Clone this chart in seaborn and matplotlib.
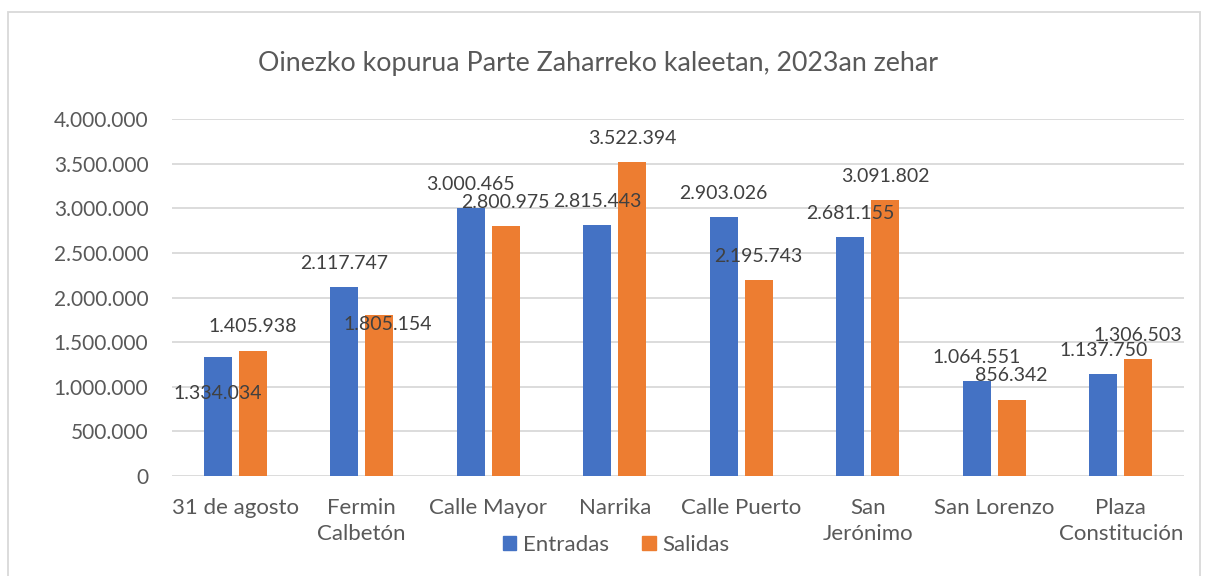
import matplotlib
matplotlib.use("Agg")
import matplotlib.pyplot as plt
from matplotlib.patches import Rectangle
from matplotlib.ticker import FuncFormatter
import pandas as pd
import seaborn as sns

# data
calles = ["31 de agosto", "Fermin\nCalbetón", "Calle Mayor", "Narrika", "Calle Puerto",
          "San\nJerónimo", "San Lorenzo", "Plaza\nConstitución"]
entradas = [1334034, 2117747, 3000465, 2815443, 2903026, 2681155, 1064551, 1137750]
salidas = [1405938, 1805154, 2800975, 3522394, 2195743, 3091802, 856342, 1306503]
series = ["Entradas", "Salidas"]
titulo = "Oinezko kopurua Parte Zaharreko kaleetan, 2023an zehar"
y_ticks = [0, 500000, 1000000, 1500000, 2000000, 2500000, 3000000, 3500000, 4000000]

df = pd.DataFrame({
    "calle": calles * 2,
    "serie": [series[0]] * len(calles) + [series[1]] * len(calles),
    "valor": entradas + salidas,
})


def miles(v, pos=None):
    return f"{int(round(v)):,}".replace(",", ".")


sns.set_theme(style="white")
plt.rcParams["font.family"] = ["Lato", "DejaVu Sans"]

fig = plt.figure(figsize=(12.08, 5.76), dpi=100)
ax = fig.add_axes([172 / 1208, 1 - 476 / 576, (1184 - 172) / 1208, (476 - 119) / 576])

sns.barplot(data=df, x="calle", y="valor", hue="serie", palette=["#4472C4", "#ED7D31"],
            width=0.553, gap=0.2, order=calles, hue_order=series, ax=ax,
            legend=False, saturation=1, edgecolor="none")

ax.set_ylim(0, 4000000)
ax.set_xlim(-0.5, len(calles) - 0.5)
ax.set_yticks(y_ticks)
ax.yaxis.set_major_formatter(FuncFormatter(miles))
ax.yaxis.grid(True, color="#D9D9D9", linewidth=1.3)
ax.set_axisbelow(True)
for s in ax.spines.values():
    s.set_visible(False)
ax.set_xlabel("")
ax.set_ylabel("")
ax.tick_params(axis="y", length=0, pad=17, labelsize=15, labelcolor="#595959")
ax.tick_params(axis="x", length=0, pad=16, labelsize=16, labelcolor="#595959")
for lbl in ax.get_xticklabels():
    lbl.set_linespacing(1.35)

# value labels, a couple sit off the default spot like in the original
shifts = {(0, 0): (0, -43), (1, 1): (6, -24)}
for j, cont in enumerate(ax.containers):
    vals = entradas if j == 0 else salidas
    for i, bar in enumerate(cont):
        dx, dy = shifts.get((i, j), (0, 0))
        ax.annotate(miles(vals[i]), (bar.get_x() + bar.get_width() / 2, bar.get_height()),
                    xytext=(dx, 17 + dy), textcoords="offset points",
                    ha="center", va="center", fontsize=14, color="#404040")

fig.text(0.495, 1 - 63 / 576, titulo, ha="center", va="center", fontsize=19.3, color="#595959")

handles = [Rectangle((0, 0), 1, 1, color=c) for c in ["#4472C4", "#ED7D31"]]
leg = fig.legend(handles, series, loc="center", bbox_to_anchor=(0.51, 1 - 545 / 576), ncol=2,
                 frameon=False, fontsize=16, handlelength=0.6, handleheight=0.6,
                 handletextpad=0.3, columnspacing=1.5)
for t in leg.get_texts():
    t.set_color("#595959")

fig.patches.append(Rectangle((8 / 1208, -0.1), 1192 / 1208, 1.1 - 12 / 576,
                             transform=fig.transFigure, fill=False,
                             edgecolor="#D9D9D9", linewidth=1.3))

fig.savefig("out.png", dpi=100)
